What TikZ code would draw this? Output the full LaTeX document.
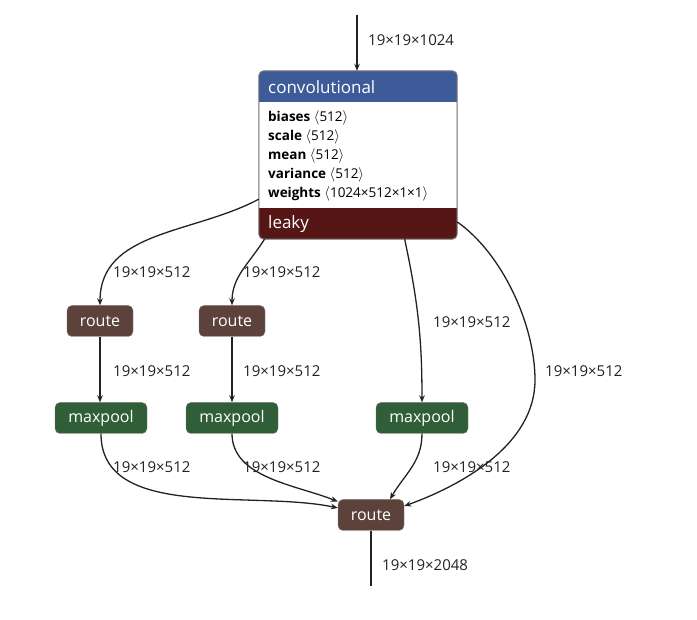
\documentclass[tikz,border=0pt]{standalone}
\usepackage{fontspec}
\setmainfont{Open Sans}
\usetikzlibrary{arrows.meta}

\definecolor{headblue}{HTML}{3D5A99}
\definecolor{footred}{HTML}{561616}
\definecolor{routebrown}{HTML}{5C423A}
\definecolor{poolgreen}{HTML}{2F5E37}
\definecolor{boxgray}{HTML}{7A7A7A}
\definecolor{linegray}{HTML}{222222}

\tikzset{
	layer/.style={draw=boxgray, rounded corners=5pt, text=white, font=\fontsize{16}{18}\selectfont, minimum height=31pt, inner sep=0pt},
	routebox/.style={layer, fill=routebrown, minimum width=66pt},
	poolbox/.style={layer, fill=poolgreen, minimum width=92pt},
	flow/.style={draw=linegray, line width=1.3pt, -{Stealth[length=7pt,width=5.5pt]}},
	dims/.style={anchor=west, inner sep=0pt, text=linegray, font=\fontsize{15}{17}\selectfont}
}

\begin{document}
\begin{tikzpicture}[x=1pt, y=-1pt]
		\useasboundingbox (0,0) rectangle (697,620);
		
		% convolutional block
		\node[draw=boxgray, fill=white, rounded corners=5pt, minimum width=198pt, minimum height=168pt, inner sep=0pt] (conv) at (358,155) {};
		\fill[headblue] ([yshift=-31pt]conv.north west) [rounded corners=5pt] -- (conv.north west) -- (conv.north east) [sharp corners] -- ([yshift=-31pt]conv.north east) -- cycle;
		\fill[footred] ([yshift=31pt]conv.south west) [rounded corners=5pt] -- (conv.south west) -- (conv.south east) [sharp corners] -- ([yshift=31pt]conv.south east) -- cycle;
		\draw[boxgray, line width=1pt, rounded corners=5pt] (conv.north west) rectangle (conv.south east);
		\node[anchor=west, inner sep=0pt, text=white, font=\fontsize{17}{19}\selectfont] (convtitle) at (268,87) {convolutional};
		\node[anchor=north west, inner sep=0pt, align=left, font=\fontsize{13.5}{19}\selectfont] (params) at (268,111) {%
			\textbf{biases} $\langle$512$\rangle$\\
			\textbf{scale} $\langle$512$\rangle$\\
			\textbf{mean} $\langle$512$\rangle$\\
			\textbf{variance} $\langle$512$\rangle$\\
			\textbf{weights} $\langle$1024×512×1×1$\rangle$};
		\node[anchor=west, inner sep=0pt, text=white, font=\fontsize{17}{19}\selectfont] (convact) at (268,224) {leaky};
		
		% other layers
		\node[routebox] (r1) at (100,321) {route};
		\node[routebox] (r2) at (232,321) {route};
		\node[poolbox] (m1) at (101,418) {maxpool};
		\node[poolbox] (m2) at (232,418) {maxpool};
		\node[poolbox] (m3) at (422,418) {maxpool};
		\node[routebox] (r3) at (371,515) {route};
		\coordinate (in) at (357,15);
		\coordinate (out) at (371,586);
		
		% connections
		\draw[flow] (in) -- (conv.north -| in);
		\draw[flow] (conv.204) to[out=208, in=90] (r1.north);
		\draw[flow] (conv.222) to[out=238, in=90] (r2.north);
		\draw[flow] (conv.299) to[out=-78, in=90] (m3.north);
		\draw[flow] (conv.326) to[out=-35, in=90, looseness=0.8] (535,380) to[out=-90, in=20, looseness=0.9] (r3.15);
		\draw[flow] (r1) -- (m1.north -| r1);
		\draw[flow] (r2) -- (m2);
		\draw[flow] (m1.south) to[out=-90, in=168, looseness=0.9] (r3.168);
		\draw[flow] (m2.south) to[out=-90, in=158, looseness=0.9] (r3.158);
		\draw[flow] (m3.south) to[out=-90, in=60] ([xshift=19pt]r3.north);
		\draw[draw=linegray, line width=1.3pt] (r3.south) -- (out);
		
		% tensor sizes
		\node[dims] (d0) at (368,40) {19×19×1024};
		\node[dims] (d1) at (113,272) {19×19×512};
		\node[dims] (d2) at (243,272) {19×19×512};
		\node[dims] (d3) at (433,322) {19×19×512};
		\node[dims] (d4) at (545,371) {19×19×512};
		\node[dims] (d5) at (113,371) {19×19×512};
		\node[dims] (d6) at (243,371) {19×19×512};
		\node[dims] (d7) at (113,467) {19×19×512};
		\node[dims] (d8) at (243,467) {19×19×512};
		\node[dims] (d9) at (433,467) {19×19×512};
		\node[dims] (d10) at (382,565) {19×19×2048};
		
		\end{tikzpicture}
\end{document}
